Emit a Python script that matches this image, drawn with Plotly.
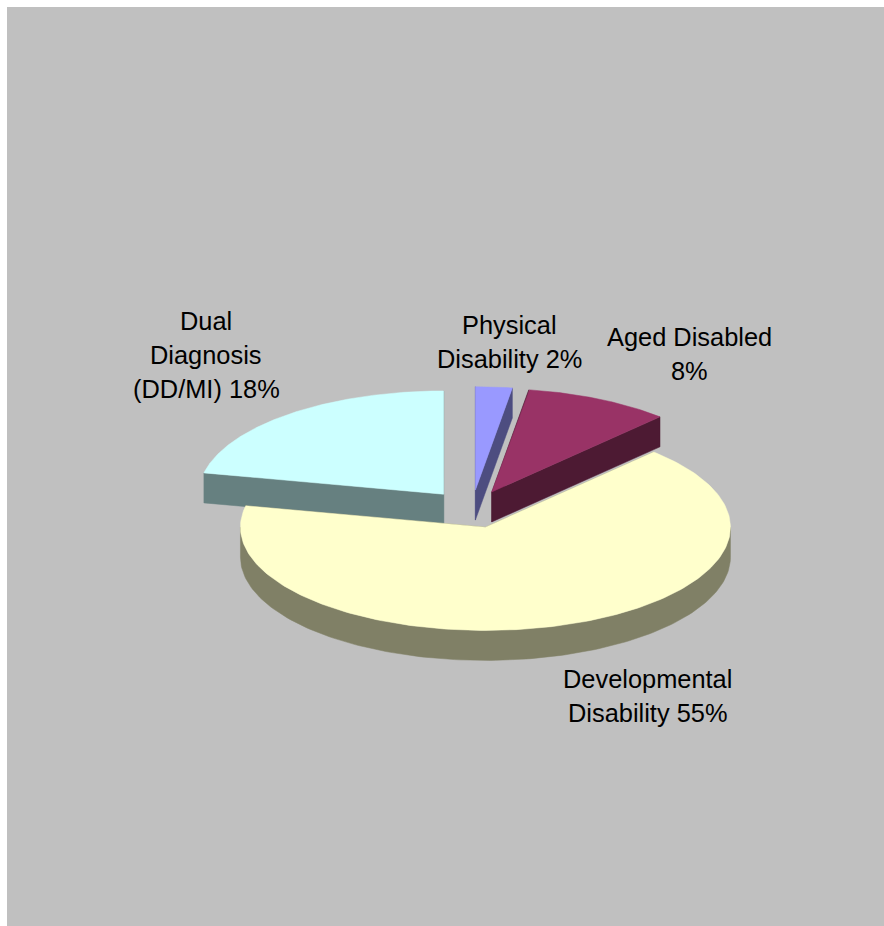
import numpy as np
import plotly.graph_objects as go

# Data
categories = ["Physical Disability", "Aged Disabled", "Developmental Disability", "Dual Diagnosis (DD/MI)"]
values = [2, 8, 55, 18]
label_lines = [["Physical", "Disability 2%"], ["Aged Disabled", "8%"],
               ["Developmental", "Disability 55%"], ["Dual", "Diagnosis", "(DD/MI) 18%"]]

# Style
top_colors = ["#9999FF", "#993366", "#FFFFCC", "#CCFFFF"]
side_colors = ["#4D4D80", "#4D1A33", "#808066", "#668080"]
label_centers = [(509, 325), (689, 337), (647, 679), (206, 321)]
LINE_STEP = 34
PAGE_W, PAGE_H = 894, 936  # slightly past the window so the grey reaches its edges
OFFSET = 7  # white page margin at top and left
W, H = PAGE_W - OFFSET, PAGE_H - OFFSET
CX, CY, RX, RY, DEPTH, EXPLODE = 472, 509, 245, 103.3, 30, 0.184
FONT = dict(family="Liberation Sans, Arial, sans-serif", size=25.4, color="#000000")

fractions = np.array(values, dtype=float) / sum(values)
ends = np.cumsum(fractions) * 2 * np.pi
starts = ends - fractions * 2 * np.pi

fig = go.Figure()


def poly(x, y, color):
    fig.add_trace(go.Scatter(x=x, y=y, mode="lines", fill="toself", fillcolor=color,
                             line=dict(width=0.5, color=color), hoverinfo="skip", showlegend=False))


for i in [3, 0, 1, 2]:
    a0, a1 = starts[i], ends[i]
    mid = (a0 + a1) / 2
    ax = CX + EXPLODE * RX * np.sin(mid)
    ay = CY - EXPLODE * RY * np.cos(mid)
    t = np.linspace(a0, a1, 200)
    ex = ax + RX * np.sin(t)
    ey = ay - RY * np.cos(t)
    # cut faces
    for a in (a0, a1):
        px, py = ax + RX * np.sin(a), ay - RY * np.cos(a)
        poly([ax, px, px, ax, ax], [ay, py, py + DEPTH, ay + DEPTH, ay], side_colors[i])
    # outer rim (front half only)
    front = (np.cos(t) < 0)
    if front.any():
        fx, fy = ex[front], ey[front]
        poly(np.r_[fx, fx[::-1], fx[0]], np.r_[fy, fy[::-1] + DEPTH, fy[0]], side_colors[i])
    # top face
    poly(np.r_[ax, ex, ax], np.r_[ay, ey, ay], top_colors[i])

annotations = []
for lines, (lx, ly) in zip(label_lines, label_centers):
    for k, line in enumerate(lines):
        annotations.append(dict(x=lx, y=ly + k * LINE_STEP, text=line, showarrow=False,
                                xanchor="center", yanchor="middle", font=FONT))

fig.update_layout(
    width=W, height=H, margin=dict(l=0, r=0, t=0, b=0),
    paper_bgcolor="#C0C0C0", plot_bgcolor="#C0C0C0", showlegend=False,
    xaxis=dict(range=[OFFSET, PAGE_W], visible=False, fixedrange=True),
    yaxis=dict(range=[PAGE_H, OFFSET], visible=False, fixedrange=True),
    annotations=annotations,
)
fig.write_html("out.html", config=dict(displayModeBar=False),
               post_script="document.body.style.margin='7px 0 0 7px';document.body.style.overflow='hidden';document.documentElement.style.overflow='hidden';")
